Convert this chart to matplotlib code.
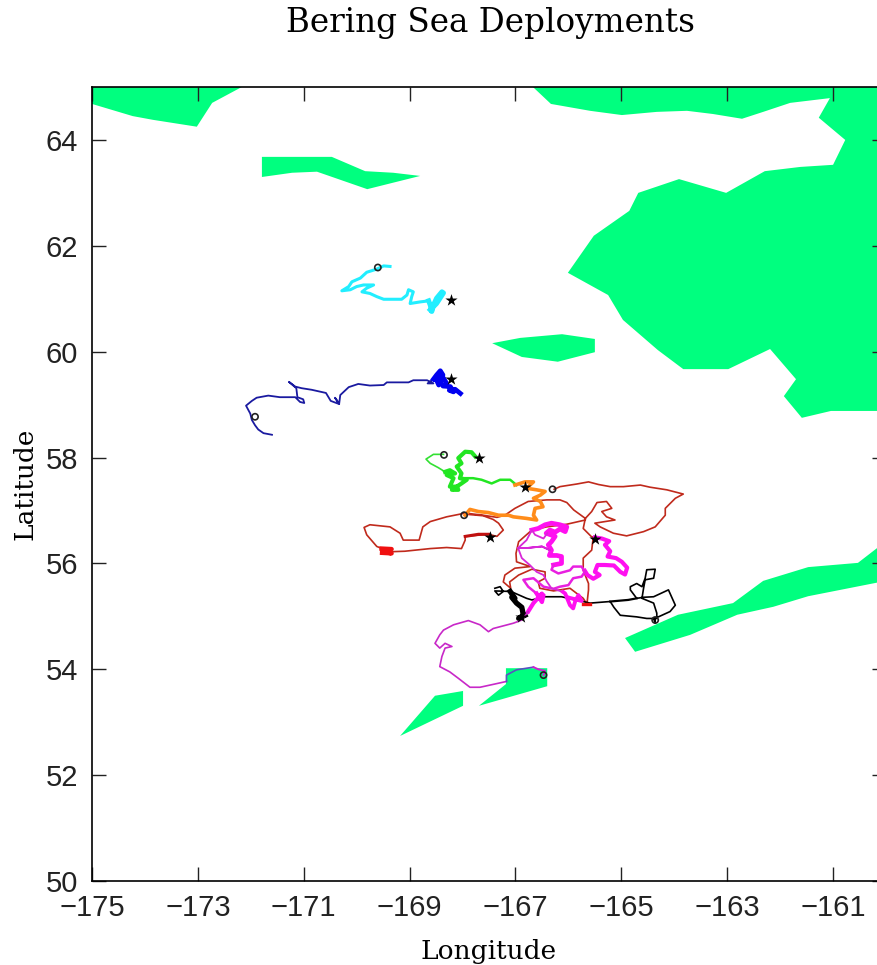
import matplotlib

matplotlib.use("Agg")

import matplotlib.pyplot as plt

TITLE = "Bering Sea Deployments"
X_TICKS = [-175, -173, -171, -169, -167, -165, -163, -161]
Y_TICKS = [50, 52, 54, 56, 58, 60, 62, 64]

# land outlines, (lon, lat)
LAND = [
    [(-175, 65), (-172.17, 65), (-172.73, 64.70), (-173.02, 64.25), (-173.85, 64.38), (-174.23, 64.45), (-175, 64.68)],
    [(-171.79, 63.68), (-170.47, 63.68), (-169.84, 63.41), (-169.31, 63.38), (-168.80, 63.32), (-169.80, 63.07),
     (-170.75, 63.40), (-171.22, 63.38), (-171.79, 63.30)],
    [(-166.67, 65), (-166.33, 64.68), (-165.59, 64.55), (-164.99, 64.47), (-164.33, 64.53), (-163.76, 64.55),
     (-163.27, 64.49), (-162.72, 64.40), (-162.32, 64.53), (-161.81, 64.70), (-161.06, 64.79), (-161.27, 64.42),
     (-160.77, 64.00), (-161.0, 63.53), (-161.62, 63.49), (-162.29, 63.41), (-163.02, 63.0), (-163.91, 63.26),
     (-164.68, 63.0), (-164.85, 62.66), (-165.52, 62.19), (-166.01, 61.49), (-165.25, 61.07), (-164.97, 60.60),
     (-164.31, 60.03), (-163.83, 59.67), (-162.98, 59.67), (-162.19, 60.05), (-161.70, 59.48), (-161.93, 59.16),
     (-161.59, 58.75), (-161.04, 58.88), (-160, 58.88), (-160, 65)],
    [(-167.44, 60.16), (-166.91, 60.26), (-166.12, 60.33), (-165.50, 60.24), (-165.50, 59.99), (-166.20, 59.81),
     (-166.88, 59.90)],
    [(-164.93, 54.59), (-163.93, 55.03), (-162.89, 55.25), (-162.32, 55.67), (-161.47, 55.93), (-160.53, 56.01),
     (-160, 56.42), (-160, 55.67), (-161.47, 55.38), (-162.13, 55.18), (-162.81, 55.03), (-163.70, 54.65),
     (-164.74, 54.33)],
    [(-169.18, 52.74), (-168.52, 53.50), (-167.99, 53.59), (-167.99, 53.31)],
    [(-167.69, 53.31), (-167.18, 53.72), (-167.18, 54.02), (-166.40, 54.02), (-166.40, 53.68)],
]

CYAN_LON = [-169.37, -169.49, -169.62, -169.81, -169.93, -170.09, -170.15, -170.28, -170.12, -170.0, -169.87, -169.68,
            -169.81, -169.90, -169.75, -169.62, -169.49, -169.30, -169.15, -169.05, -169.02, -168.93, -168.96, -168.99,
            -168.80, -168.64]
CYAN_LAT = [61.61, 61.62, 61.56, 61.50, 61.39, 61.32, 61.23, 61.15, 61.17, 61.23, 61.26, 61.26,
            61.20, 61.13, 61.10, 61.04, 60.99, 60.99, 60.99, 61.07, 61.17, 61.13, 61.04, 60.91,
            60.94, 60.96]
CYAN_END_LON = [-168.64, -168.61, -168.58, -168.55, -168.49, -168.39, -168.36, -168.49, -168.61]
CYAN_END_LAT = [60.96, 60.88, 60.76, 60.88, 61.01, 61.13, 61.11, 60.91, 60.79]

BLUE_LON = [-171.60, -171.76, -171.86, -171.92, -171.98, -172.01, -172.09, -171.98, -171.89, -171.67, -171.45, -171.16,
            -171.07, -170.99, -171.01, -171.12, -171.14, -171.28, -171.16, -171.04, -170.85, -170.58, -170.49, -170.33,
            -170.41, -170.33, -170.31, -170.15, -169.97, -169.75, -169.49, -169.43, -169.18, -169.02, -168.93, -168.67,
            -168.55, -168.66, -168.55]
BLUE_LAT = [58.43, 58.46, 58.53, 58.61, 58.71, 58.83, 58.98, 59.07, 59.13, 59.17, 59.14, 59.14,
            59.05, 59.03, 59.10, 59.14, 59.31, 59.43, 59.34, 59.31, 59.28, 59.22, 59.07, 59.01,
            59.13, 59.02, 59.18, 59.33, 59.39, 59.36, 59.37, 59.42, 59.42, 59.42, 59.46, 59.46,
            59.40, 59.40, 59.48]
BLUE_DENSE_LON = [-168.55, -168.49, -168.42, -168.37, -168.49, -168.45, -168.36, -168.30, -168.37, -168.23, -168.17,
                  -168.25, -168.14, -168.04]
BLUE_DENSE_LAT = [59.48, 59.56, 59.64, 59.56, 59.46, 59.37, 59.50, 59.40, 59.35, 59.34, 59.24,
                  59.27, 59.29, 59.21]

GREEN_LON = [-168.36, -168.55, -168.69, -168.61, -168.46, -168.33]
GREEN_LAT = [58.06, 58.06, 57.97, 57.89, 57.81, 57.73]
GREEN_DENSE_LON = [-168.33, -168.24, -168.14, -168.30, -168.17, -168.24, -168.11, -168.08, -168.20, -168.02, -167.92,
                   -168.05, -168.02, -168.11, -168.02, -168.08, -167.95, -167.83, -167.76]
GREEN_DENSE_LAT = [57.73, 57.76, 57.70, 57.67, 57.61, 57.45, 57.45, 57.39, 57.39, 57.51, 57.58,
                   57.61, 57.70, 57.83, 57.89, 57.99, 58.11, 58.10, 58.02]
GREEN_EAST_LON = [-168.05, -167.80, -167.64, -167.45, -167.29, -167.10, -166.98]
GREEN_EAST_LAT = [57.61, 57.61, 57.58, 57.51, 57.58, 57.58, 57.48]

ORANGE_LON = [-167.01, -166.82, -166.66, -166.79, -166.60, -166.44, -166.53, -166.66, -166.53, -166.48, -166.63,
              -166.66, -166.60, -166.79, -167.04, -167.13, -167.32, -167.51, -167.70, -167.86, -167.95]
ORANGE_LAT = [57.48, 57.54, 57.54, 57.42, 57.39, 57.36, 57.29, 57.23, 57.17, 57.07, 57.04,
              56.91, 56.82, 56.85, 56.88, 56.91, 56.91, 56.96, 56.98, 57.02, 56.91]

RED_LON = [-166.27, -166.16, -165.84, -165.62, -165.43, -165.21, -164.96, -164.64, -164.46, -164.14, -163.83, -163.98,
           -164.17, -164.17, -164.36, -164.58, -164.90, -165.15, -165.40, -165.50, -165.12, -165.28, -165.37, -165.18,
           -165.28, -165.46, -165.56, -165.68,
           -165.68, -166.03, -166.41, -166.69, -166.94, -166.99, -166.98, -166.72, -167.01, -167.20, -167.23, -167.09,
           -167.11, -166.94, -166.69, -166.44, -166.44, -166.57, -166.54, -166.28, -165.97, -165.72, -165.65, -165.62,
           -165.62, -165.72, -165.72, -165.56, -165.53, -165.56, -165.72, -165.68,
           -165.90, -166.03, -166.16, -166.41, -166.76, -167.01, -167.20, -167.35, -167.61, -167.95, -168.30, -168.61,
           -168.75, -168.82, -169.12, -169.18, -169.37, -169.75, -169.86, -169.81, -169.62, -169.37, -169.09, -168.61,
           -168.30, -168.02, -167.95, -167.95, -167.51, -167.35, -167.23, -167.32, -167.42, -167.61, -167.95]
RED_LAT = [57.40, 57.45, 57.50, 57.54, 57.49, 57.45, 57.45, 57.48, 57.44, 57.39, 57.31, 57.23,
           57.04, 56.91, 56.69, 56.60, 56.52, 56.57, 56.69, 56.76, 56.82, 56.88, 56.98, 57.04,
           57.17, 57.15, 56.98, 56.85,
           56.82, 56.74, 56.69, 56.63, 56.41, 56.19, 56.03, 55.94, 55.91, 55.78, 55.65, 55.53,
           55.65, 55.78, 55.89, 55.84, 55.72, 55.65, 55.53, 55.48, 55.53, 55.34, 55.23, 55.50,
           55.62, 55.87, 56.10, 56.25, 56.50, 56.50, 56.66, 56.85,
           57.01, 57.15, 57.20, 57.20, 57.17, 57.04, 56.91, 56.87, 56.91, 56.95, 56.88, 56.79,
           56.69, 56.44, 56.44, 56.57, 56.69, 56.73, 56.68, 56.54, 56.32, 56.22, 56.23, 56.28,
           56.30, 56.28, 56.44, 56.51, 56.55, 56.51, 56.63, 56.76, 56.83, 56.90, 56.93]
RED_TAIL_LON = [-167.95, -167.70, -167.51]
RED_TAIL_LAT = [56.51, 56.55, 56.55]
RED_BLOB_LON = [-169.53, -169.34, -169.50, -169.34, -169.52]
RED_BLOB_LAT = [56.28, 56.27, 56.22, 56.19, 56.20]
RED_SPOT_LON = [-165.72, -165.60]
RED_SPOT_LAT = [55.23, 55.23]

MAGENTA_RIGHT_LON = [-165.50, -165.37, -165.23, -165.31, -165.21, -165.26, -165.10, -164.99, -164.89, -164.93, -165.02,
                     -165.14, -165.31, -165.45, -165.50, -165.41, -165.53, -165.64, -165.69]
MAGENTA_RIGHT_LAT = [56.49, 56.47, 56.42, 56.35, 56.23, 56.13, 56.10, 56.03, 55.92, 55.79, 55.84,
                     55.96, 55.97, 55.97, 55.84, 55.78, 55.71, 55.78, 55.86]
MAGENTA_UPPER_LON = [-166.69, -166.57, -166.44, -166.32, -166.16, -166.03, -166.06, -166.16, -166.25, -166.35, -166.42,
                     -166.25, -166.32, -166.38, -166.32, -166.36, -166.22, -166.13, -166.13, -166.28]
MAGENTA_UPPER_LAT = [56.63, 56.66, 56.73, 56.76, 56.73, 56.69, 56.60, 56.65, 56.59, 56.63, 56.57,
                     56.51, 56.41, 56.35, 56.25, 56.15, 56.15, 56.13, 56.00, 55.97]
MAGENTA_MID_LON = [-166.28, -166.32, -166.19, -165.97, -165.91, -165.75, -165.69, -165.75, -165.91, -166.0, -166.16,
                   -166.28, -166.47, -166.66, -166.85, -166.76, -166.60]
MAGENTA_MID_LAT = [55.97, 55.88, 55.81, 55.87, 55.94, 55.94, 55.84, 55.75, 55.72, 55.59, 55.56,
                   55.52, 55.56, 55.72, 55.69, 55.56, 55.43]
MAGENTA_WEST_LON = [-166.40, -166.47, -166.63, -166.69, -166.79, -166.95, -166.79, -166.50, -166.35, -166.50, -166.79,
                    -166.95, -166.88, -166.73, -166.60, -166.47, -166.41, -166.32, -166.10]
MAGENTA_WEST_LAT = [56.57, 56.47, 56.54, 56.63, 56.44, 56.29, 56.29, 56.32, 56.25, 56.32, 56.29,
                    56.29, 56.10, 55.97, 55.84, 55.78, 55.66, 55.53, 55.46]
MAGENTA_LOW_LON = [-166.60, -166.50, -166.47, -166.57, -166.50, -166.66, -166.76]
MAGENTA_LOW_LAT = [55.43, 55.27, 55.40, 55.34, 55.43, 55.25, 55.09]
MAGENTA_SIDE_LON = [-166.10, -166.06, -165.97, -165.91, -165.87, -165.81, -165.75, -165.98]
MAGENTA_SIDE_LAT = [55.46, 55.43, 55.21, 55.15, 55.29, 55.40, 55.29, 55.35]
MAGENTA_TAIL_LON = [-166.76, -166.88, -167.04, -167.42, -167.51, -167.67, -167.89, -168.17, -168.36, -168.43, -168.52,
                    -168.43, -168.33, -168.20, -168.33, -168.39, -168.43, -168.24, -168.08, -167.86, -167.67, -167.35,
                    -167.17]
MAGENTA_TAIL_LAT = [55.09, 54.93, 54.87, 54.77, 54.71, 54.84, 54.92, 54.84, 54.74, 54.65, 54.49,
                    54.40, 54.49, 54.43, 54.40, 54.24, 54.05, 53.95, 53.83, 53.66, 53.66, 53.73,
                    53.77]
PURPLE_LON = [-167.17, -167.17, -166.98, -166.66]
PURPLE_LAT = [53.77, 53.89, 53.99, 54.04]
MAGENTA_END_LON = [-166.66, -166.57, -166.44, -166.47]
MAGENTA_END_LAT = [54.04, 54.0, 53.97, 53.89]

BLACK_LON = [-167.39, -167.29, -167.23, -167.32, -167.39, -167.10, -167.04, -166.79, -166.69, -166.44, -166.13, -165.59,
             -165.21, -165.14, -165.02, -164.71, -164.52, -164.36, -164.36, -164.39, -164.30, -164.08, -163.98, -164.11,
             -164.39, -164.58, -164.71, -164.83, -164.83, -164.71, -164.61, -164.55, -164.52, -164.36, -164.39, -164.55,
             -164.58, -164.61, -164.39, -164.33, -164.33]
BLACK_LAT = [55.53, 55.56, 55.47, 55.40, 55.48, 55.47, 55.45, 55.34, 55.31, 55.37, 55.37, 55.25,
             55.28, 55.17, 55.02, 54.99, 54.96, 54.96, 54.87, 54.96, 54.99, 55.09, 55.21, 55.50,
             55.37, 55.36, 55.34, 55.50, 55.56, 55.62, 55.56, 55.72, 55.88, 55.89, 55.72, 55.69,
             55.53, 55.34, 55.25, 55.06, 54.96]
BLACK_LINK_LON = [-165.21, -164.87, -164.71]
BLACK_LINK_LAT = [55.28, 55.31, 55.34]
BLACK_DENSE_LON = [-167.10, -167.01, -167.07, -166.98, -166.88, -166.85, -166.94, -166.82]
BLACK_DENSE_LAT = [55.47, 55.34, 55.36, 55.25, 55.17, 55.02, 54.96, 55.02]

STAR_LON = [-168.22, -168.22, -167.69, -166.82, -167.48, -165.50, -166.90]
STAR_LAT = [60.98, 59.48, 58.00, 57.45, 56.50, 56.47, 54.99]
CIRCLE_LON = [-169.60, -171.92, -168.35, -166.30, -167.97, -166.47, -164.36]
CIRCLE_LAT = [61.59, 58.77, 58.05, 57.40, 56.91, 53.89, 54.93]

plt.rcParams["font.family"] = ["Liberation Sans", "DejaVu Sans"]

fig = plt.figure(figsize=(8.77, 9.65), dpi=100)
# the frame runs past the right side of the picture, -160 would sit at x=886
ax = fig.add_axes([92 / 877, 84 / 965, 794 / 877, 794 / 965])

for outline in LAND:
    ax.fill(*zip(*outline), color="#00ff7f", linewidth=0, zorder=1)

ax.plot(CYAN_LON, CYAN_LAT, color="#22eeff", linewidth=2.2, zorder=2)
ax.plot(CYAN_END_LON, CYAN_END_LAT, color="#22eeff", linewidth=3.6, zorder=2)
ax.plot(BLUE_LON, BLUE_LAT, color="#1a1aa0", linewidth=1.3, zorder=2)
ax.plot(BLUE_DENSE_LON, BLUE_DENSE_LAT, color="#0000f0", linewidth=3.4, zorder=2)
ax.plot(GREEN_LON, GREEN_LAT, color="#33e033", linewidth=1.2, zorder=2)
ax.plot(GREEN_DENSE_LON, GREEN_DENSE_LAT, color="#22e622", linewidth=3.0, zorder=2)
ax.plot(GREEN_EAST_LON, GREEN_EAST_LAT, color="#22e622", linewidth=1.8, zorder=2)
ax.plot(RED_LON, RED_LAT, color="#c02a1c", linewidth=1.2, zorder=2)
ax.plot(RED_TAIL_LON, RED_TAIL_LAT, color="#c01010", linewidth=2.2, zorder=2)
ax.plot(RED_BLOB_LON, RED_BLOB_LAT, color="#f01010", linewidth=3.2, zorder=2)
ax.plot(RED_SPOT_LON, RED_SPOT_LAT, color="#f01010", linewidth=2.4, zorder=4)
ax.plot(ORANGE_LON, ORANGE_LAT, color="#ff8c1a", linewidth=2.6, zorder=3)
ax.plot(BLACK_LON, BLACK_LAT, color="black", linewidth=1.2, zorder=2)
ax.plot(BLACK_LINK_LON, BLACK_LINK_LAT, color="black", linewidth=1.6, zorder=2)
ax.plot(BLACK_DENSE_LON, BLACK_DENSE_LAT, color="black", linewidth=3.8, zorder=2)
ax.plot(MAGENTA_RIGHT_LON, MAGENTA_RIGHT_LAT, color="#ff10f0", linewidth=3.0, zorder=3)
ax.plot(MAGENTA_UPPER_LON, MAGENTA_UPPER_LAT, color="#ff10f0", linewidth=3.4, zorder=3)
ax.plot(MAGENTA_MID_LON, MAGENTA_MID_LAT, color="#e820e0", linewidth=1.8, zorder=3)
ax.plot(MAGENTA_WEST_LON, MAGENTA_WEST_LAT, color="#d828d8", linewidth=1.3, zorder=3)
ax.plot(MAGENTA_LOW_LON, MAGENTA_LOW_LAT, color="#ff10f0", linewidth=3.0, zorder=3)
ax.plot(MAGENTA_SIDE_LON, MAGENTA_SIDE_LAT, color="#ff10f0", linewidth=2.8, zorder=3)
ax.plot(MAGENTA_TAIL_LON, MAGENTA_TAIL_LAT, color="#c828c8", linewidth=1.2, zorder=3)
ax.plot(PURPLE_LON, PURPLE_LAT, color="#5a50c0", linewidth=1.2, zorder=3)
ax.plot(MAGENTA_END_LON, MAGENTA_END_LAT, color="#d020d0", linewidth=1.4, zorder=3)

ax.scatter(STAR_LON, STAR_LAT, marker="*", s=85, color="black", linewidth=0, zorder=5)
ax.scatter(CIRCLE_LON, CIRCLE_LAT, marker="o", s=20, facecolor="none", edgecolor="#222222", linewidth=1.2, zorder=5)

ax.set_xlim(-175, -160)
ax.set_ylim(50, 65)
ax.set_xticks(X_TICKS)
ax.set_yticks(Y_TICKS)
ax.tick_params(direction="in", length=10, width=1.0, top=True, right=True, labelsize=21, colors="#222222")
ax.tick_params(axis="x", pad=9)
ax.tick_params(axis="y", pad=10)
for spine in ax.spines.values():
    spine.set_linewidth(1.2)

fig.text(490 / 877, 1 - 23 / 965, TITLE, family="DejaVu Serif", fontsize=23.5, ha="center", va="center")
fig.text(489 / 877, 1 - 952 / 965, "Longitude", family="DejaVu Serif", fontsize=19, ha="center", va="center")
fig.text(25 / 877, 1 - 484 / 965, "Latitude", family="DejaVu Serif", fontsize=19, rotation=90, ha="center", va="center")

fig.savefig("out.png", dpi=100)
